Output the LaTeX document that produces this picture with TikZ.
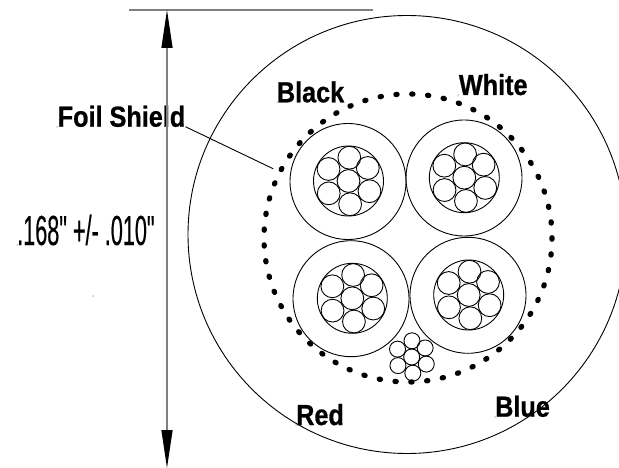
\documentclass[tikz,border=0pt]{standalone}
\usepackage{fontspec}
\setmainfont{Liberation Sans}
\newfontfamily\dimfont[FakeStretch=0.515,FakeBold=0.3]{Liberation Sans}
\newfontfamily\labelfont[FakeStretch=0.87,FakeBold=0.8]{Liberation Sans Bold}
\usetikzlibrary{arrows.meta}
\tikzset{
  wire/.style={circle, draw, line width=0.9pt, inner sep=0pt, outer sep=0pt},
  jacket/.style={wire, minimum size=116pt},
  bundle/.style={wire, minimum size=70pt},
  strand/.style={wire, minimum size=22.8pt},
  drainstrand/.style={wire, minimum size=16pt},
  colorlabel/.style={anchor=base west, inner sep=0pt, font=\fontsize{29}{29}\labelfont},
  dimlabel/.style={anchor=base west, inner sep=0pt, font=\fontsize{42}{42}\dimfont},
  dimline/.style={draw=gray, line width=1.3pt},
  dimtip/.style={{Triangle[length=38pt,width=11pt,black]}-{Triangle[length=38pt,width=11pt,black]}}
}
\begin{document}
\begin{tikzpicture}[x=1pt, y=-1pt]
  \useasboundingbox (0,0) rectangle (619,468);
  \clip (0,0) rectangle (619,468);

  % Outer jacket and foil
  \draw[line width=0.9pt] (407,234.5) circle (219);
  \draw[line width=5.3pt, line cap=round, dash pattern=on 1.2pt off 14.67pt] (408,238) circle (144);

  % Four conductors
  \foreach \name/\jx/\jy/\bx/\by in {black/348/181.5/348.5/181,white/464/178/464.3/177.7,
      red/351/298.7/352.3/298.3,blue/468/295.3/468.7/295}{
    \node[jacket] (\name) at (\jx,\jy) {};
    \node[bundle] (\name-bundle) at (\bx,\by) {};
    \node[strand] (\name-core) at (\bx,\by) {};
    \foreach \a [count=\i] in {-88,-34,26,86,148,-149}
      \node[strand] (\name-\i) at ([shift={(\a:23.3)}]\name-bundle.center) {};
  }

  % Drain wire
  \node[drainstrand] (drain) at (411.7,357) {};
  \foreach \a [count=\i] in {-89,-34,26,86,148,-151}
    \node[drainstrand] (drain-\i) at ([shift={(\a:16.2)}]drain.center) {};

  % Labels
  \node[colorlabel] (foil) at (57.5,126.7) {Foil Shield};
  \node[colorlabel] (blacklabel) at (276.7,102.3) {Black};
  \node[colorlabel] (whitelabel) at (458.7,95) {White};
  \node[colorlabel] (redlabel) at (296,425) {Red};
  \node[colorlabel] (bluelabel) at (495,416.7) {Blue};
  \node[dimlabel] (dimtext) at (17,245) {.168" +/- .010"};

  % Leader
  \coordinate (foilend) at (273.3,168.8);
  \draw[line width=0.9pt] (foil.base east) -- (foilend);

  % Dimension
  \coordinate (dimstart) at (128.5,10);
  \coordinate (dimtop) at (167,10);
  \coordinate (dimend) at (373,10);
  \coordinate (dimbottom) at (167,468);
  \draw[dimline] (dimstart) -- (dimend);
  \draw[dimline, dimtip] (dimtop) -- (dimbottom);

  % Specks
  \foreach \x/\y in {57/127,277/102,458/95,296/425,495/417,17/245,93/296}
    \fill (\x,\y) circle (0.5);
\end{tikzpicture}
\end{document}
